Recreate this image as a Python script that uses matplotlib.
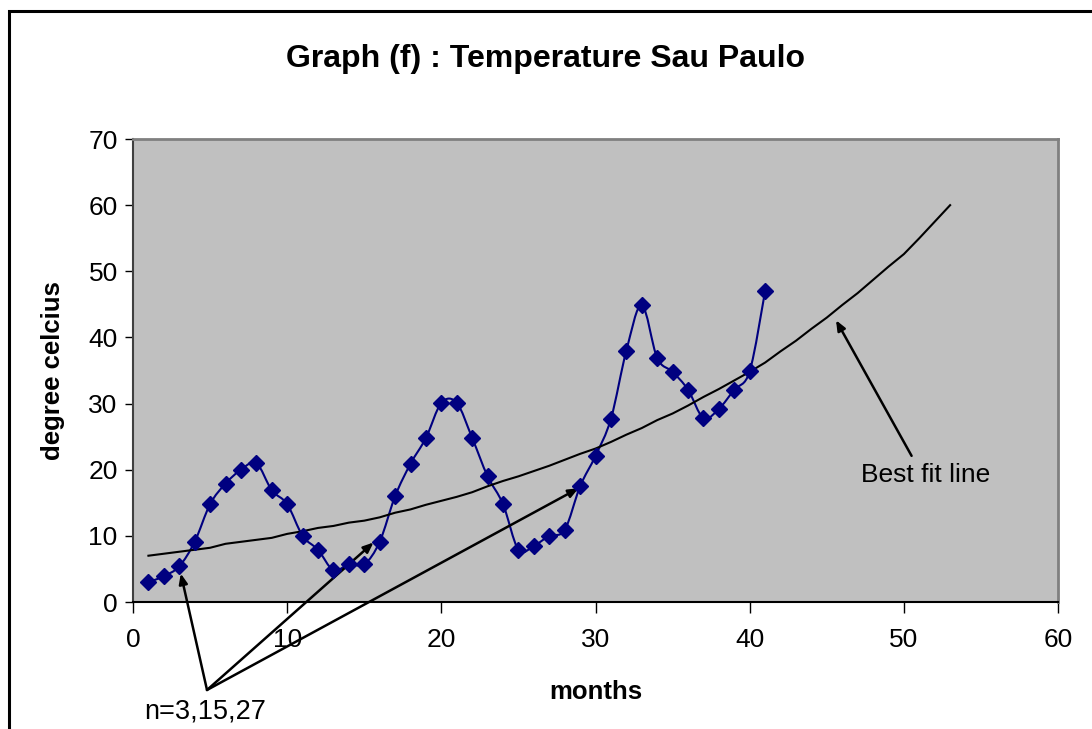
import numpy as np
import matplotlib.pyplot as plt
from matplotlib.path import Path
from matplotlib.patches import PathPatch, Rectangle

plt.rcParams['font.family'] = ['Liberation Sans', 'DejaVu Sans']

# monthly temperatures
months = list(range(1, 42))
temps = [3.0, 3.9, 5.4, 9.1, 14.8, 17.9, 20.0, 21.0, 16.9, 14.8,
         10.0, 7.9, 4.8, 5.7, 5.7, 9.1, 16.0, 20.9, 24.8, 30.1,
         30.1, 24.8, 19.0, 14.8, 7.9, 8.5, 10.0, 10.9, 17.5, 22.1,
         27.7, 38.0, 44.9, 36.9, 34.8, 32.1, 27.8, 29.2, 32.1, 34.9,
         47.0]

# best fit curve
fit_months = list(range(1, 54))
fit_temps = [7.0, 7.3, 7.6, 7.9, 8.2, 8.8, 9.1, 9.4, 9.7, 10.3,
             10.7, 11.2, 11.5, 12.0, 12.3, 12.8, 13.5, 14.0, 14.7, 15.3,
             15.9, 16.6, 17.5, 18.3, 19.0, 19.8, 20.6, 21.5, 22.4, 23.2,
             24.2, 25.3, 26.3, 27.5, 28.5, 29.7, 31.0, 32.2, 33.5, 34.8,
             36.2, 37.9, 39.5, 41.3, 43.0, 44.9, 46.7, 48.7, 50.7, 52.6,
             55.0, 57.5, 60.0]


def smooth_path(x, y):
    # Bezier segments through every point (spreadsheet style smoothing)
    x = np.asarray(x, float)
    y = np.asarray(y, float)
    n = len(x)
    verts = [(x[0], y[0])]
    codes = [Path.MOVETO]
    for i in range(n - 1):
        p0 = (x[max(i - 1, 0)], y[max(i - 1, 0)])
        p1 = (x[i], y[i])
        p2 = (x[i + 1], y[i + 1])
        p3 = (x[min(i + 2, n - 1)], y[min(i + 2, n - 1)])
        c1 = (p1[0] + (p2[0] - p0[0]) / 6, p1[1] + (p2[1] - p0[1]) / 6)
        c2 = (p2[0] - (p3[0] - p1[0]) / 6, p2[1] - (p3[1] - p1[1]) / 6)
        verts += [c1, c2, p2]
        codes += [Path.CURVE4] * 3
    return Path(verts, codes)


fig = plt.figure(figsize=(10.92, 7.29), dpi=100)
ax = fig.add_axes([0.1218, 0.1742, 0.9689 - 0.1218, 0.8093 - 0.1742])
ax.set_facecolor('#C0C0C0')

ax.add_patch(PathPatch(smooth_path(months, temps), facecolor='none',
                       edgecolor='#000080', lw=1.5, zorder=3))
ax.plot(months, temps, linestyle='none', marker='D', markersize=8.5,
        color='#000080', zorder=4)
ax.plot(fit_months, fit_temps, color='black', lw=1.5, zorder=3)

ax.set_xlim(0, 60)
ax.set_ylim(0, 70)
ax.set_xticks(range(0, 61, 10))
ax.set_yticks(range(0, 71, 10))
ax.tick_params(axis='both', labelsize=19, color='black', width=1)
ax.tick_params(axis='x', direction='out', length=8, pad=11)
ax.tick_params(axis='y', direction='out', length=6, pad=5)

for side in ['top', 'right']:
    ax.spines[side].set_color('#808080')
    ax.spines[side].set_linewidth(2)
ax.spines['left'].set_color('#404040')
ax.spines['left'].set_linewidth(1.5)
ax.spines['bottom'].set_color('black')
ax.spines['bottom'].set_linewidth(1.5)

ax.set_xlabel('months', fontsize=18.5, fontweight='bold', labelpad=20)
ax.set_ylabel('degree celcius', fontsize=18.5, fontweight='bold', labelpad=17)
fig.suptitle('Graph (f) : Temperature Sau Paulo', fontsize=23,
             fontweight='bold', y=0.94)

arrow = dict(arrowstyle='-|>,head_length=0.6,head_width=0.25',
             color='black', lw=1.8, shrinkA=0, shrinkB=0)
for head in [(3.1, 4.3), (15.6, 9.0), (28.9, 17.2)]:
    ax.annotate('', xy=head, xytext=(4.8, -13.3), arrowprops=arrow,
                annotation_clip=False)
ax.text(4.7, -16.6, 'n=3,15,27', fontsize=19.5, ha='center', va='center',
        clip_on=False)

ax.annotate('', xy=(45.6, 42.6), xytext=(50.5, 22.1), arrowprops=arrow)
ax.text(51.4, 19.2, 'Best fit line', fontsize=19, ha='center', va='center')

# outer chart frame
fig.patches.append(Rectangle((0.0085, -0.1), 1.2, 0.985 + 0.1,
                             transform=fig.transFigure, fill=False,
                             edgecolor='black', lw=2.2))

fig.savefig('out.png', dpi=100)
